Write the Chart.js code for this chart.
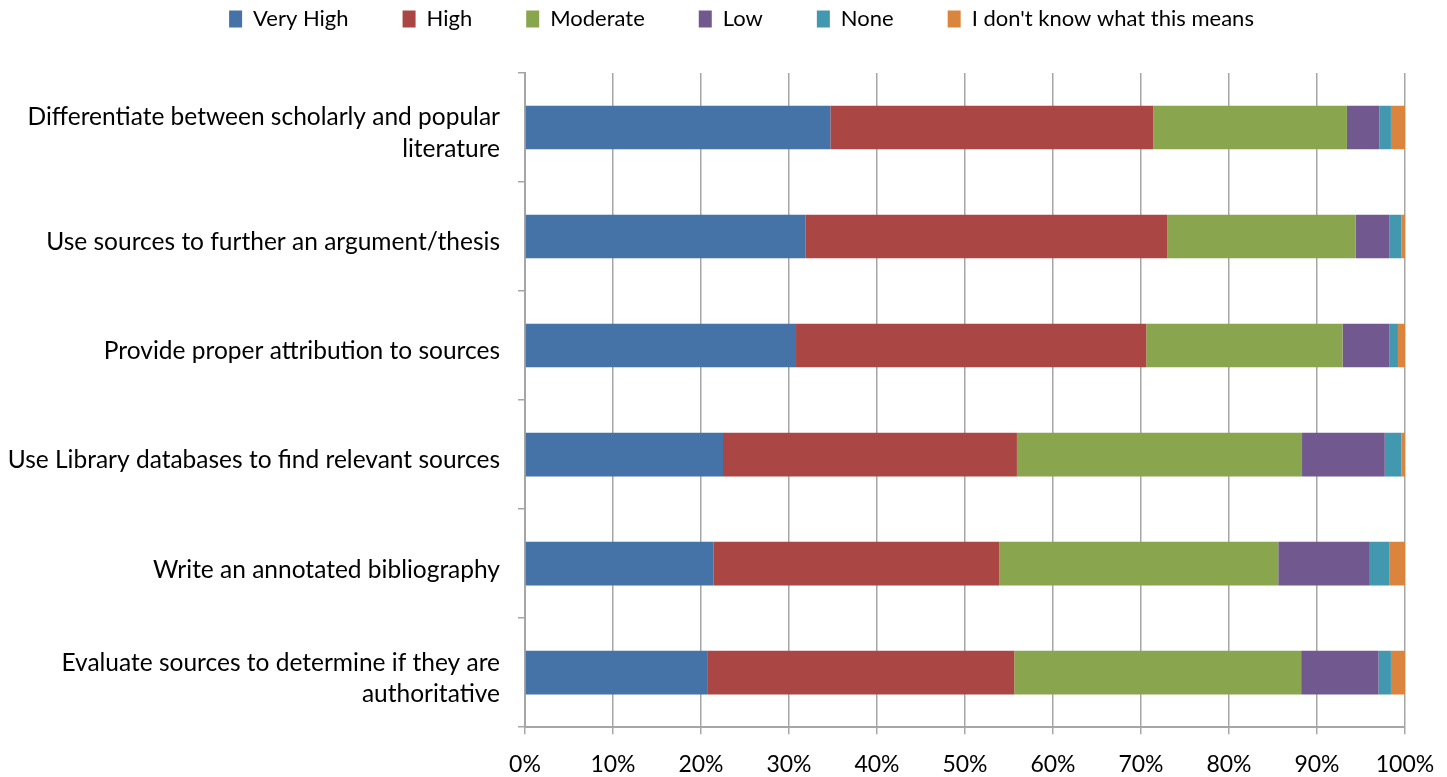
<!DOCTYPE html>
<html>
<head>
<meta charset="utf-8">
<script src="https://cdn.jsdelivr.net/npm/chart.js@4/dist/chart.umd.min.js"></script>
<style>
  html, body { margin: 0; padding: 0; background: #fff; }
  #wrap { width: 1447px; height: 777px; position: relative; }
</style>
</head>
<body>
<div id="wrap"><canvas id="barChart"></canvas></div>
<script>
// categories (top to bottom)
var skills = [
    ['Differentiate between scholarly and popular', 'literature'],
    'Use sources to further an argument/thesis',
    'Provide proper attribution to sources',
    'Use Library databases to find relevant sources',
    'Write an annotated bibliography',
    ['Evaluate sources to determine if they are', 'authoritative']
];

// percent of respondents per rating
var veryHigh = [34.7, 31.9, 30.8, 22.5, 21.4, 20.7];
var high     = [36.7, 41.1, 39.8, 33.4, 32.5, 34.9];
var moderate = [22.0, 21.4, 22.3, 32.4, 31.7, 32.6];
var low      = [3.7, 3.8, 5.3, 9.4, 10.4, 8.8];
var none     = [1.3, 1.4, 1.0, 1.9, 2.2, 1.4];
var dontKnow = [1.6, 0.4, 0.8, 0.4, 1.8, 1.6];

var xTicks = [0, 10, 20, 30, 40, 50, 60, 70, 80, 90, 100];

var gridGray = '#a6a6a6';
var labelFont = "Lato, 'Open Sans', sans-serif";

function series(label, data, color) {
    return {
        label: label,
        data: data,
        backgroundColor: color,
        borderWidth: 0,
        barPercentage: 0.4,
        categoryPercentage: 1.0
    };
}

// legend items, with an empty one in front so the row sits a bit to the right
function legendItems(chart) {
    var items = Chart.defaults.plugins.legend.labels.generateLabels(chart);
    items.unshift({
        text: '',
        fillStyle: 'rgba(0,0,0,0)',
        strokeStyle: 'rgba(0,0,0,0)',
        lineWidth: 0,
        hidden: false,
        datasetIndex: -1
    });
    return items;
}

var ctx = document.getElementById('barChart');
new Chart(ctx, {
    type: 'bar',
    data: {
        labels: skills,
        datasets: [
            series('Very High', veryHigh, '#4572a7'),
            series('High', high, '#aa4643'),
            series('Moderate', moderate, '#89a54e'),
            series('Low', low, '#71588f'),
            series('None', none, '#4198af'),
            series("I don't know what this means", dontKnow, '#db843d')
        ]
    },
    options: {
        indexAxis: 'y',
        responsive: true,
        maintainAspectRatio: false,
        animation: false,
        // legend sits high; the spacer axis below it pushes the plot down
        layout: { padding: { left: 0, right: 42, top: -46, bottom: 0 } },
        plugins: {
            legend: {
                position: 'top',
                labels: {
                    boxWidth: 13,
                    boxHeight: 17,
                    padding: 54,
                    color: '#000',
                    font: { family: labelFont, size: 22 },
                    generateLabels: legendItems
                }
            },
            tooltip: { enabled: false }
        },
        scales: {
            x: {
                stacked: true,
                min: 0,
                max: 100,
                afterBuildTicks: function (scale) {
                    scale.ticks = xTicks.map(function (v) { return { value: v }; });
                },
                afterFit: function (scale) {
                    scale.height = 49;
                    scale.paddingLeft = 0;
                    scale.paddingRight = 0;
                },
                grid: {
                    color: gridGray,
                    lineWidth: 1.5,
                    drawTicks: true,
                    tickLength: 7
                },
                border: { color: gridGray, width: 2 },
                ticks: {
                    color: '#000',
                    padding: 17,
                    maxRotation: 0,
                    font: { family: labelFont, size: 23 },
                    callback: function (v) { return v + '%'; }
                }
            },
            spacer: {
                type: 'linear',
                position: 'top',
                axis: 'x',
                display: true,
                grid: { display: false, drawTicks: false },
                border: { display: false },
                ticks: { display: false },
                afterFit: function (scale) { scale.height = 33; }
            },
            y: {
                stacked: true,
                grid: {
                    drawOnChartArea: false,
                    drawTicks: true,
                    tickLength: 7,
                    offset: true,
                    color: gridGray,
                    lineWidth: 1.5
                },
                border: { color: gridGray, width: 2 },
                afterFit: function (scale) { scale.width = 525; },
                ticks: {
                    color: '#000',
                    padding: 18,
                    labelOffset: 6,
                    font: { family: labelFont, size: 24.5, lineHeight: 1.3 }
                }
            }
        }
    }
});
</script>
</body>
</html>
